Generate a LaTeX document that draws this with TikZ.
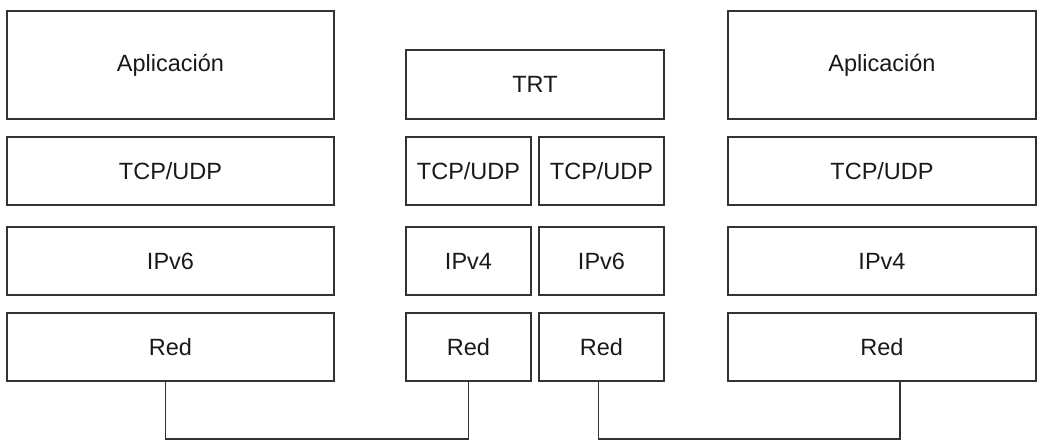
\documentclass[tikz,border=0pt]{standalone}
\usepackage{fontspec}
\setmainfont{Liberation Sans}
\usepackage{xcolor}
\usepackage{tikz}
\usetikzlibrary{positioning}

\begin{document}
\begin{tikzpicture}[x=1pt, y=1pt,
        layer/.style={rectangle, draw=black!80, line width=1.5pt, outer sep=0pt, align=center,
            minimum height=68pt, text=black!90, font=\fontsize{23.5}{28}\selectfont},
        wide/.style={layer, minimum width=327pt},
        wider/.style={layer, minimum width=308pt},
        mid/.style={layer, minimum width=125pt},
        link/.style={draw=black!80, line width=1.5pt}]

        \useasboundingbox (0,0) rectangle (1045,-441);

        % Columna izquierda - nodo IPv6
        \node[wide, minimum height=108pt, anchor=north west] (app_izq) at (7,-11) {Aplicación};
        \node[wide, below=18pt of app_izq] (tcp_izq) {TCP/UDP};
        \node[wide, below=22pt of tcp_izq] (ipv6_izq) {IPv6};
        \node[wide, below=18pt of ipv6_izq] (red_izq) {Red};

        % Columna central - traductor TRT
        \node[layer, minimum width=258pt, minimum height=69pt, anchor=north west] (trt) at (406,-50) {TRT};
        \node[mid, below=18pt of trt.south west, anchor=north west] (tcp_mid4) {TCP/UDP};
        \node[mid, right=8pt of tcp_mid4] (tcp_mid6) {TCP/UDP};
        \node[mid, below=22pt of tcp_mid4] (ipv4_mid) {IPv4};
        \node[mid, below=22pt of tcp_mid6] (ipv6_mid) {IPv6};
        \node[mid, below=18pt of ipv4_mid] (red_mid4) {Red};
        \node[mid, below=18pt of ipv6_mid] (red_mid6) {Red};

        % Columna derecha - nodo IPv4
        \node[wider, minimum height=108pt, anchor=north west] (app_der) at (728,-11) {Aplicación};
        \node[wider, below=18pt of app_der] (tcp_der) {TCP/UDP};
        \node[wider, below=22pt of tcp_der] (ipv4_der) {IPv4};
        \node[wider, below=18pt of ipv4_der] (red_der) {Red};

        % Enlaces de red
        \draw[link] ([xshift=-5pt]red_izq.south) -- ++(0,-58) -| (red_mid4.south);
        \draw[link] ([xshift=-3pt]red_mid6.south) -- ++(0,-58) -| ([xshift=18pt]red_der.south);

    \end{tikzpicture}
\end{document}
